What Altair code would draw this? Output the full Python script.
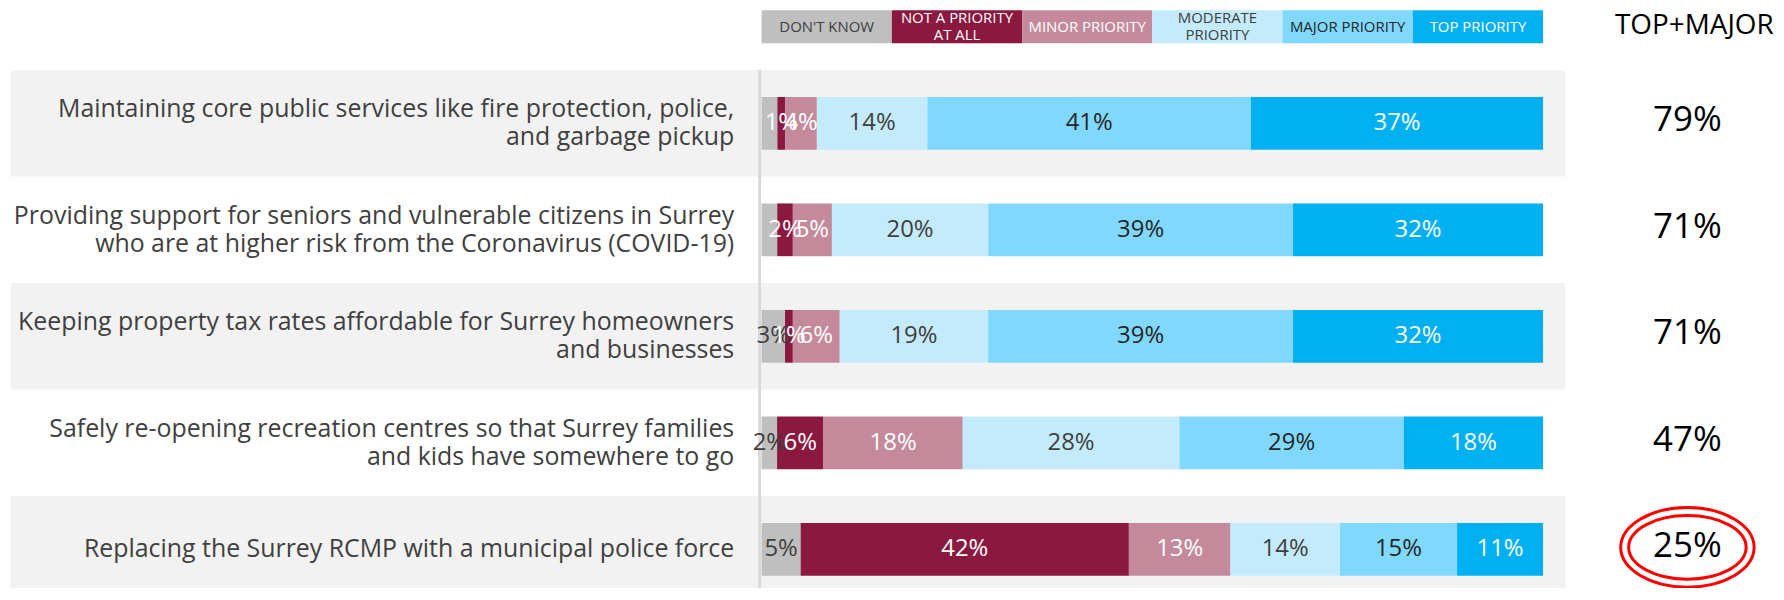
import altair as alt
import pandas as pd

FONT = "Open Sans"

questions = [
    "Maintaining core public services like fire protection, police,\nand garbage pickup",
    "Providing support for seniors and vulnerable citizens in Surrey\nwho are at higher risk from the Coronavirus (COVID-19)",
    "Keeping property tax rates affordable for Surrey homeowners\nand businesses",
    "Safely re-opening recreation centres so that Surrey families\nand kids have somewhere to go",
    "Replacing the Surrey RCMP with a municipal police force",
]
categories = ["Don't know", "Not a priority at all", "Minor priority",
              "Moderate priority", "Major priority", "Top priority"]
legend_labels = ["DON'T KNOW", "NOT A PRIORITY\nAT ALL", "MINOR PRIORITY",
                 "MODERATE\nPRIORITY", "MAJOR PRIORITY", "TOP PRIORITY"]

dont_know = [2, 2, 3, 2, 5]
not_a_priority = [1, 2, 1, 6, 42]
minor_priority = [4, 5, 6, 18, 13]
moderate_priority = [14, 20, 19, 28, 14]
major_priority = [41, 39, 39, 29, 15]
top_priority = [37, 32, 32, 18, 11]
dont_know_labelled = [False, False, True, True, True]
top_plus_major = [79, 71, 71, 47, 25]
highlighted = [False, False, False, False, True]

fill_colors = ["#BFBFBF", "#8B183F", "#C48A9C", "#C4EBFC", "#80D8FC", "#00B0F0"]
text_colors = ["#404040", "#FFFFFF", "#FFFFFF", "#404040", "#262626", "#FFFFFF"]

series = [dont_know, not_a_priority, minor_priority,
          moderate_priority, major_priority, top_priority]
rows = []
for qi, q in enumerate(questions):
    for ci, c in enumerate(categories):
        v = series[ci][qi]
        show = dont_know_labelled[qi] if ci == 0 else True
        rows.append({"question": q, "category": c, "order": ci, "value": v,
                     "label": f"{v}%" if show else ""})
df_long = pd.DataFrame(rows)
df_summary = pd.DataFrame({"question": questions,
                           "top_major": [f"{v}%" for v in top_plus_major],
                           "highlighted": highlighted})
df_legend = pd.DataFrame({"category": categories, "label": legend_labels})
df_header = pd.DataFrame({"text": ["TOP+MAJOR"]})

y_scale = alt.Scale(domain=questions, range=[0, 535], paddingInner=0, paddingOuter=0)
y_axis_def = alt.Axis(title="", labelFont=FONT, labelFontSize=25,
                      labelColor="#404040", labelAlign="right",
                      labelBaseline="middle", labelPadding=26,
                      labelLineHeight=28, labelLimit=0,
                      labelExpr="split(datum.label, '\\n')",
                      labelOffset={"condition": {"test": "indexof(datum.value, '\\n') >= 0",
                                                 "value": -14}, "value": 0},
                      ticks=False, domain=False, offset=2, zindex=1, grid=False)
y_enc = alt.Y("question:N", sort=questions, scale=y_scale, axis=y_axis_def)

fill_enc = alt.Fill("category:N", scale=alt.Scale(domain=categories, range=fill_colors), legend=None)
color_enc = alt.Color("category:N", scale=alt.Scale(domain=categories, range=text_colors), legend=None)
x_scale = alt.Scale(domain=[0, 1], nice=False, zero=False)

bands = alt.Chart(df_summary).transform_window(
    idx="row_number()"
).transform_filter("datum.idx % 2 == 1").mark_rect(color="#F2F2F2").encode(
    y=y_enc, x=alt.value(-754), x2=alt.value(807)
)

axis_line = alt.Chart(df_header).mark_rule(color="#D9D9D9", strokeWidth=3).encode(
    x=alt.value(-2), y=alt.value(0), y2=alt.value(535)
)

base = alt.Chart(df_long).transform_stack(
    stack="value", groupby=["question"], as_=["x0", "x1"],
    sort=[alt.SortField("order", "ascending")], offset="normalize"
).transform_calculate(mid="(datum.x0 + datum.x1) / 2")

bars = base.mark_bar(size=53).encode(
    x=alt.X("x0:Q", scale=x_scale, axis=None), x2="x1:Q",
    y=y_enc, fill=fill_enc
)
labels = base.mark_text(font=FONT, fontSize=24, baseline="middle", align="center").encode(
    x=alt.X("mid:Q", scale=x_scale, axis=None), y=y_enc,
    text="label:N", color=color_enc
)
bar_layer = alt.layer(bars, labels)

x_leg = alt.X("category:N", sort=categories,
              scale=alt.Scale(domain=categories, paddingInner=0, paddingOuter=0), axis=None)
leg_rect = alt.Chart(df_legend).mark_rect().encode(
    x=x_leg, y=alt.value(-60), y2=alt.value(-27), fill=fill_enc
)
leg_text = alt.Chart(df_legend).transform_calculate(
    ypos="-43.5 - 8.5 * (length(split(datum.label, '\\n')) - 1)"
).mark_text(
    font=FONT, fontSize=15, lineBreak="\n", lineHeight=17, baseline="middle", align="center"
).encode(x=x_leg, y=alt.Y("ypos:Q", scale=None, axis=None), text="label:N", color=color_enc)
legend_layer = alt.layer(leg_rect, leg_text)

right_col = alt.Chart(df_summary).mark_text(
    font=FONT, fontSize=35, color="#000000", baseline="middle", align="center", dy=-3
).encode(x=alt.value(930), y=y_enc, text="top_major:N")


def ellipse_path(ry):
    k = 0.5523
    return (f"M -1 0 C -1 {-k*ry:.4f} {-k:.4f} {-ry:.4f} 0 {-ry:.4f} "
            f"C {k:.4f} {-ry:.4f} 1 {-k*ry:.4f} 1 0 "
            f"C 1 {k*ry:.4f} {k:.4f} {ry:.4f} 0 {ry:.4f} "
            f"C {-k:.4f} {ry:.4f} -1 {k*ry:.4f} -1 0 Z")


ell_base = alt.Chart(df_summary).transform_filter("datum.highlighted")
ell_outer = ell_base.mark_point(shape=ellipse_path(0.597), size=17956, filled=False,
                                color="#FF0000", strokeWidth=3, opacity=1, yOffset=-2).encode(
    x=alt.value(930), y=y_enc)
ell_inner = ell_base.mark_point(shape=ellipse_path(0.542), size=13924, filled=False,
                                color="#FF0000", strokeWidth=3, opacity=1, yOffset=-2).encode(
    x=alt.value(930), y=y_enc)

header = alt.Chart(df_header).mark_text(
    font=FONT, fontSize=28, color="#000000", baseline="middle", align="center"
).encode(x=alt.value(937), y=alt.value(-44), text="text:N")

chart = alt.layer(
    bands, axis_line, bar_layer, legend_layer, right_col, ell_outer, ell_inner, header
).resolve_scale(x="independent").properties(
    width=785, height=519,
    autosize=alt.AutoSizeParams(type="none"),
    padding={"left": 757, "top": 61, "right": 234, "bottom": 0},
    background="white",
).configure_view(strokeWidth=0)

chart.save("out.html", embed_options={"renderer": "svg", "actions": False})
